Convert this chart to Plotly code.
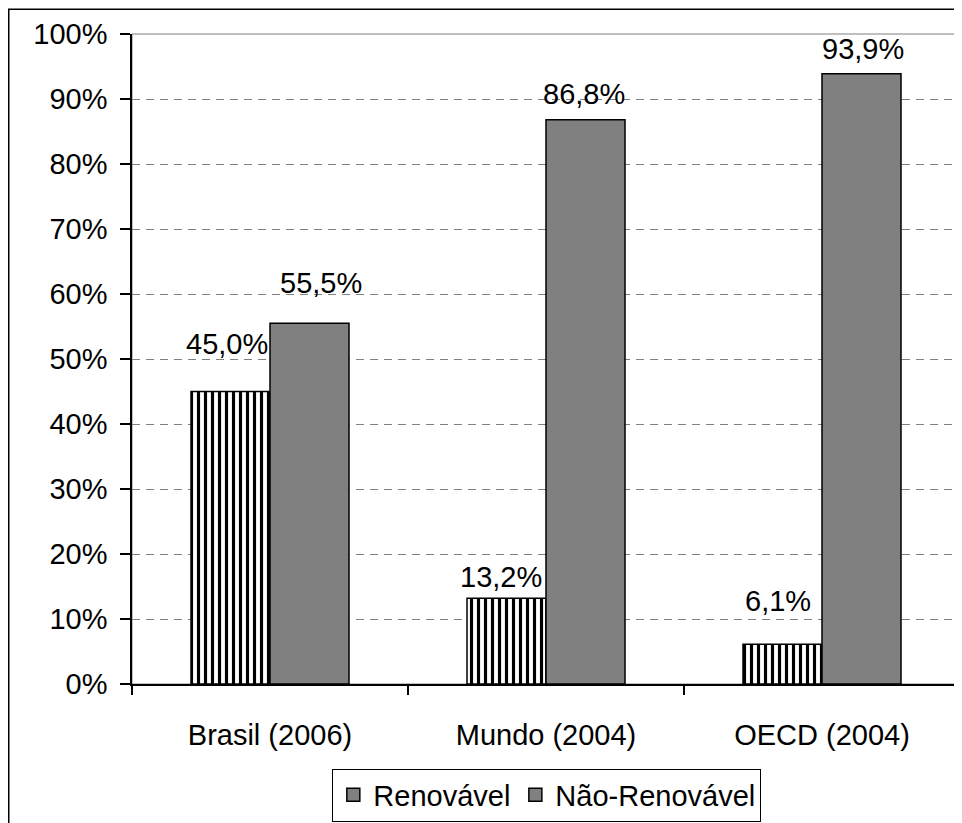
import plotly.graph_objects as go

# ---- data ----
categories = ["Brasil (2006)", "Mundo (2004)", "OECD (2004)"]
renovavel = [45.0, 13.2, 6.1]
nao_renovavel = [55.5, 86.8, 93.9]
series_names = ["Renovável", "Não-Renovável"]
y_tickvals = [0, 10, 20, 30, 40, 50, 60, 70, 80, 90, 100]
y_ticktext = ["0%", "10%", "20%", "30%", "40%", "50%", "60%", "70%", "80%", "90%", "100%"]

# label placement tweaks (pixels) - style only
ren_label_dx = [-4, -6, -5]
ren_label_dy = [30, 3, 25]
nao_label_dx = [11, -2, 1]
nao_label_dy = [22, 8, 7]

FONT = "Liberation Sans, Arial, sans-serif"
FS = 29
GRAY = "#808080"

def fmt(v):
    return f"{v:.1f}".replace(".", ",") + "%"

fig = go.Figure()
fig.add_trace(go.Bar(
    x=categories, y=renovavel, name=series_names[0], showlegend=False,
    marker=dict(color="white", line=dict(color="black", width=1.5),
                pattern=dict(shape="|", size=7, solidity=0.45,
                             fgcolor="black", bgcolor="white", fillmode="replace")),
    hovertemplate="%{x}: %{y:.1f}%<extra>Renovável</extra>",
))
fig.add_trace(go.Bar(
    x=categories, y=nao_renovavel, name=series_names[1], showlegend=False,
    marker=dict(color=GRAY, line=dict(color="black", width=1.5)),
    hovertemplate="%{x}: %{y:.1f}%<extra>Não-Renovável</extra>",
))
# legend entries (grey squares as in the original)
for nm in series_names:
    fig.add_trace(go.Scatter(
        x=[None], y=[None], mode="markers", name=nm,
        marker=dict(symbol="square", size=13, color=GRAY,
                    line=dict(color="black", width=1.5)),
    ))

# data labels
bar_half_px = 39.5
annotations = []
for i, c in enumerate(categories):
    annotations.append(dict(x=c, y=renovavel[i], text=fmt(renovavel[i]),
                            xref="x", yref="y", showarrow=False,
                            yanchor="bottom", xanchor="center",
                            xshift=-bar_half_px + ren_label_dx[i], yshift=ren_label_dy[i],
                            font=dict(family=FONT, size=FS, color="black")))
    annotations.append(dict(x=c, y=nao_renovavel[i], text=fmt(nao_renovavel[i]),
                            xref="x", yref="y", showarrow=False,
                            yanchor="bottom", xanchor="center",
                            xshift=bar_half_px + nao_label_dx[i], yshift=nao_label_dy[i],
                            font=dict(family=FONT, size=FS, color="black")))

# page has an 8px body margin, so the figure is offset by 8px
W, H = 954, 815
L, R, T, B = 124, 2, 26, 135
pw = W - L - R
ph = H - T - B

shapes = [
    # plot area border (grey)
    dict(type="rect", xref="paper", yref="paper", x0=0, y0=0, x1=1, y1=1,
         line=dict(color=GRAY, width=1), layer="below"),
    # outer chart border (cut off right/bottom as in the original)
    dict(type="rect", xref="paper", yref="paper",
         x0=(0.75 - L) / pw, x1=(W + 20 - L) / pw,
         y0=-(40 + B) / ph, y1=((H - B) - 1) / ph,
         line=dict(color="black", width=1.5), layer="below"),
]

fig.update_layout(
    width=W, height=H,
    margin=dict(l=L, r=R, t=T, b=B),
    paper_bgcolor="white", plot_bgcolor="white",
    font=dict(family=FONT, size=FS, color="black"),
    barmode="group", bargap=0.4275, bargroupgap=0,
    annotations=annotations, shapes=shapes,
    legend=dict(orientation="h", x=0.501, xanchor="center", y=-0.13, yanchor="top",
                bordercolor="black", borderwidth=1, bgcolor="white",
                font=dict(family=FONT, size=FS, color="black")),
)
fig.update_xaxes(
    showline=True, linecolor="black", linewidth=1.5,
    ticks="outside", ticklen=9, tickcolor="black", tickwidth=1.5,
    tickson="boundaries", showgrid=False,
    tickfont=dict(family=FONT, size=FS, color="black"),
    ticklabelstandoff=24,
)
fig.update_yaxes(
    range=[0, 100], tickvals=y_tickvals, ticktext=y_ticktext,
    showline=True, linecolor="black", linewidth=1.5,
    ticks="outside", ticklen=10, tickcolor="black", tickwidth=1.5,
    showgrid=True, gridcolor=GRAY, gridwidth=1, griddash="8px,6px",
    zeroline=False,
    tickfont=dict(family=FONT, size=FS, color="black"),
    ticklabelstandoff=7,
)

fig.write_html("out.html")
